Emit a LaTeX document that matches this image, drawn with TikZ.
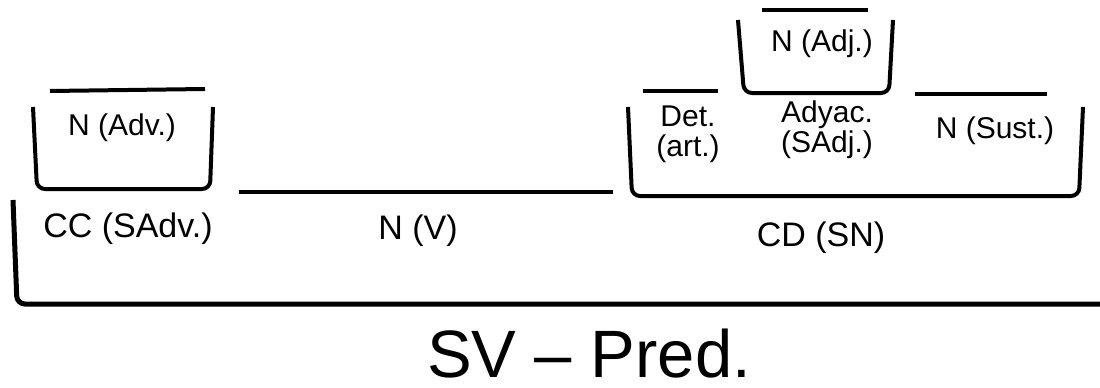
\documentclass[tikz,border=0pt]{standalone}
\usepackage{fontspec}
\setmainfont{Liberation Sans}
\begin{document}
\begin{tikzpicture}[x=1pt,y=-1pt,
  brk/.style={line width=4pt,rounded corners=8pt,line cap=butt},
  bar/.style={line width=4pt},
  lab/.style={inner sep=0pt,font=\fontsize{30}{30}\selectfont,align=center},
  biglab/.style={inner sep=0pt,font=\fontsize{34}{36}\selectfont},
  title/.style={inner sep=0pt,font=\fontsize{67}{70}\selectfont}]
\useasboundingbox (0,0) rectangle (1100,388);
% outer SV bracket
\draw[brk,line width=5pt] (13,200) -- (17,304) -- (1104,304);
% CC bracket
\draw[bar] (50,91) -- (205,89);
\draw[brk] (33,107) -- (37,189) -- (210,189) -- (213,107);
\node[lab] (nadv) at (122,128) {N (Adv.)};
\node[biglab] (cc) at (128,229) {CC (SAdv.)};
% N (V)
\draw[bar] (239,192) -- (613,192);
\node[biglab] (nv) at (418,231) {N (V)};
% CD bracket
\draw[brk] (628,107) -- (632,196) -- (1079,196) -- (1083,107);
\node[biglab] (cd) at (821,238) {CD (SN)};
% Det
\draw[bar] (643,91) -- (718,91);
\node[lab] (det) at (688,134) {Det.\\(art.)};
% Adj bracket
\draw[bar] (762,10) -- (868,10);
\draw[brk] (738,20) -- (744,93) -- (889,93) -- (893,20);
\node[lab] (nadj) at (822,44) {N (Adj.)};
\node[lab] (ady) at (827,130) {Adyac.\\(SAdj.)};
% N Sust
\draw[bar] (915,94) -- (1047,94);
\node[lab] (nsust) at (995,131) {N (Sust.)};
% title
\node[title] (sv) at (589,354) {SV – Pred.};
\end{tikzpicture}
\end{document}
